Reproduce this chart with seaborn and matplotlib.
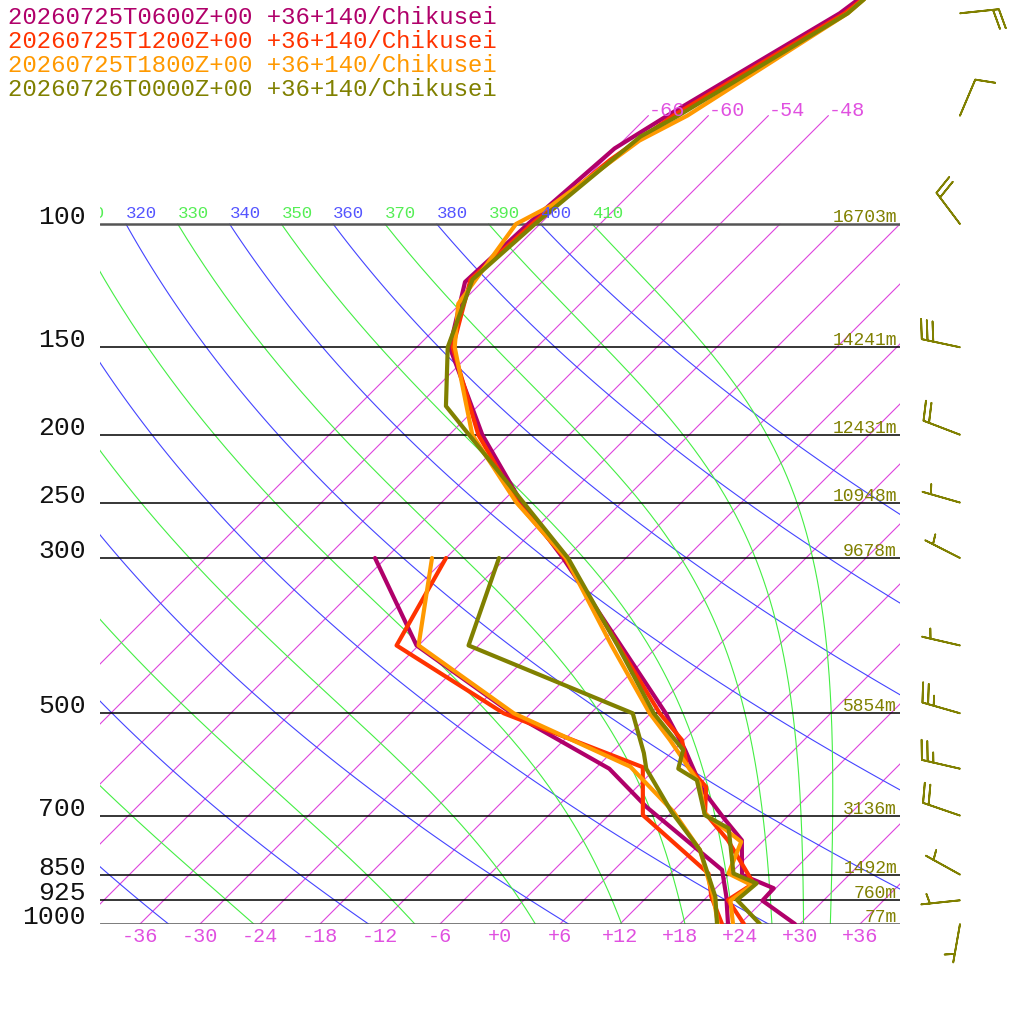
import numpy as np
import matplotlib
matplotlib.use("Agg")
import matplotlib.pyplot as plt
from matplotlib import transforms
import seaborn as sns

# run labels and colours
run_labels = ["20260725T0600Z+00 +36+140/Chikusei",
              "20260725T1200Z+00 +36+140/Chikusei",
              "20260725T1800Z+00 +36+140/Chikusei",
              "20260726T0000Z+00 +36+140/Chikusei"]
run_colors = ["#b0006a", "#ff3300", "#ff9900", "#808000"]

# temperature profiles (hPa, degC)
p_t1 = [1000, 926, 889, 851, 759, 706, 644, 564, 500, 300, 250, 200, 150, 121, 100, 78, 70, 50, 40]
t_t1 = [29.5, 23.9, 23.8, 19.3, 15.8, 11.8, 6.9, 1.1, -4.5, -30.3, -40.0, -50.7, -62.7, -67.7, -67.2, -66.1, -64.1, -57.1, -54.8]
p_t2 = [1000, 924, 875, 759, 694, 637, 593, 546, 500, 300, 250, 200, 150, 120, 100, 81, 70, 50, 40]
t_t2 = [24.4, 20.4, 21.3, 14.4, 9.4, 6.9, 2.8, -0.2, -5.1, -30.1, -40.4, -51.1, -62.4, -67.4, -66.8, -65.4, -63.5, -56.6, -54.8]
p_t3 = [1000, 926, 880, 847, 763, 695, 630, 546, 500, 400, 300, 250, 200, 150, 130, 100, 94, 76, 70, 50, 40]
t_t3 = [23.3, 20.7, 21.3, 17.8, 15.9, 9.4, 5.9, -1.4, -6.1, -16.7, -30.0, -40.5, -51.7, -62.2, -66.2, -68.4, -66.7, -64.4, -62.1, -56.3, -55.2]
p_t4 = [1000, 924, 875, 847, 730, 699, 623, 600, 564, 500, 400, 300, 182, 150, 120, 100, 75, 70, 50, 40]
t_t4 = [26.0, 21.3, 21.6, 18.3, 13.3, 9.6, 5.3, 2.3, 0.9, -5.7, -16.1, -29.8, -57.2, -62.9, -67.2, -66.5, -64.7, -63.0, -56.3, -55.2]

# dew point profiles (hPa, degC)
p_d1 = [1000, 914, 837, 680, 600, 500, 400, 300]
t_d1 = [22.8, 19.9, 16.8, 2.9, -4.6, -19.9, -36.2, -49.1]
p_d2 = [1000, 914, 847, 699, 597, 500, 400, 300]
t_d2 = [22.2, 18.4, 15.8, 3.4, -1.4, -20.7, -38.2, -42.0]
p_d3 = [1000, 914, 784, 691, 596, 500, 400, 300]
t_d3 = [21.8, 18.6, 12.6, 6.1, -2.7, -19.7, -36.0, -43.4]
p_d4 = [1000, 914, 784, 691, 600, 570, 500, 400, 300]
t_d4 = [21.7, 18.8, 12.6, 5.9, -0.9, -2.7, -7.8, -31.0, -36.7]

# isobars with geopotential height of the last run
isobars = [100, 150, 200, 250, 300, 500, 700, 850, 925, 1000]
heights = [16703, 14241, 12431, 10948, 9678, 5854, 3136, 1492, 760, 77]

# winds of the last run (direction deg, speed kt)
wind_p = [50, 70, 100, 150, 200, 250, 300, 400, 500, 600, 700, 850, 925, 1000]
wind_dir = [84, 23, 323, 282, 291, 286, 297, 283, 286, 283, 289, 299, 264, 190]
wind_spd = [20, 10, 20, 30, 20, 5, 5, 5, 25, 25, 20, 5, 5, 5]

SKEW = 30.4
P_TOP = 1000 * np.exp(-924 / 304)


def skew_x(t, p):
    return np.asarray(t, dtype=float) + SKEW * np.log(1000.0 / np.asarray(p, dtype=float))


def dtdp(t, p):
    es = 6.112 * np.exp(17.67 * (t - 273.15) / (t - 29.65))
    rs = 0.622 * es / (p - es)
    num = 287.04 * t + 2.501e6 * rs
    den = 1005.7 + 2.501e6 ** 2 * rs * 0.622 / (287.04 * t ** 2)
    return num / den / p


def moist_line(theta, pp):
    t = theta * (pp[0] / 1000.0) ** 0.2857
    out = [t]
    for i in range(1, len(pp)):
        h = pp[i] - pp[i - 1]
        p0 = pp[i - 1]
        k1 = dtdp(t, p0)
        k2 = dtdp(t + h * k1 / 2, p0 + h / 2)
        k3 = dtdp(t + h * k2 / 2, p0 + h / 2)
        k4 = dtdp(t + h * k3, p0 + h)
        t = t + h * (k1 + 2 * k2 + 2 * k3 + k4) / 6
        out.append(t)
    return np.array(out) - 273.15


sns.set_theme(style="white")
plt.rcParams["font.family"] = ["Liberation Mono", "DejaVu Sans Mono"]

fig = plt.figure(figsize=(10.24, 10.24), dpi=100)
ax = fig.add_axes([100 / 1024, 100 / 1024, 800 / 1024, 924 / 1024])
ax.set_yscale("log")
ax.axis("off")

lab_off = transforms.offset_copy(ax.transData, fig=fig, x=0, y=6, units="dots")

# isotherms
for t in range(-66, 37, 6):
    top = 70 if t <= -48 else 100
    pp = np.array([1000, top])
    ax.plot(skew_x(t, pp), pp, color="#dd44dd", lw=0.8)
    if top == 70:
        ax.text(skew_x(t, 70), 70, f"{t:+d}", color="#e050e0", fontsize=14.5,
                ha="left", va="baseline", clip_on=False)

# dry adiabats
pp = np.geomspace(1000, 100, 120)
for th in range(240, 401, 20):
    t = th * (pp / 1000) ** 0.2857 - 273.15
    ax.plot(skew_x(t, pp), pp, color="#4444ff", lw=0.8)
    x100 = skew_x(t[-1], 100)
    if x100 > -44:
        ax.text(x100, 100, str(th), color="#5555ff", fontsize=12.5,
                ha="left", va="baseline", transform=lab_off, clip_on=True)

# moist adiabats
pm = np.geomspace(100, 1000, 300)
for th in range(250, 411, 20):
    t = moist_line(th, pm)
    ax.plot(skew_x(t, pm), pm, color="#44ee44", lw=0.8)
    x100 = skew_x(t[0], 100)
    if x100 > -44:
        ax.text(x100, 100, str(th), color="#55ee55", fontsize=12.5,
                ha="left", va="baseline", transform=lab_off, clip_on=True)

# isobars
for p, h in zip(isobars, heights):
    edge = p in (100, 1000)
    ax.axhline(p, color="#555555" if edge else "black", lw=1.8 if edge else 1.1)
    hz = transforms.offset_copy(ax.get_yaxis_transform(), fig=fig, x=-3, y=2, units="dots")
    ax.text(1.0, p, f"{h}m", transform=hz, color="#808000", fontsize=13,
            ha="right", va="baseline", clip_on=False)
    pz = transforms.offset_copy(ax.get_yaxis_transform(), fig=fig, x=-14, y=0, units="dots")
    ax.text(0.0, p, str(p), transform=pz, color="#111111", fontsize=19,
            ha="right", va="baseline", clip_on=False)

# temperature axis labels
for t in range(-36, 37, 6):
    ax.text(t, -13 / 924, f"{t:+d}", transform=ax.get_xaxis_transform(),
            color="#e050e0", fontsize=14.5, ha="center", va="center", clip_on=False)

# profiles
temps = [(p_t1, t_t1), (p_t2, t_t2), (p_t3, t_t3), (p_t4, t_t4)]
dews = [(p_d1, t_d1), (p_d2, t_d2), (p_d3, t_d3), (p_d4, t_d4)]
for (pt, tt), (pd_, td), c in zip(temps, dews, run_colors):
    sns.lineplot(x=skew_x(tt, pt), y=pt, sort=False, estimator=None, color=c, lw=3, ax=ax)
    sns.lineplot(x=skew_x(td, pd_), y=pd_, sort=False, estimator=None, color=c, lw=3, ax=ax)

ax.set_xlim(-40, 40)
ax.set_ylim(1000, P_TOP)
ax.axis("off")

# titles
for i, (lab, c) in enumerate(zip(run_labels, run_colors)):
    fig.text(8 / 1024, 1 - (17 + 24 * i) / 1024, lab, color=c, fontsize=17.3,
             ha="left", va="center")

# wind barbs
bax = fig.add_axes([900 / 1024, 100 / 1024, 124 / 1024, 924 / 1024])
bax.set_yscale("log")
bax.set_xlim(0, 124)
bax.set_ylim(1000, P_TOP)
bax.axis("off")
rad = np.deg2rad(wind_dir)
u = -np.array(wind_spd) * np.sin(rad)
v = -np.array(wind_spd) * np.cos(rad)
bax.barbs(np.full(len(wind_p), 60), wind_p, u, v, length=7.5, color="#808000",
          linewidth=1.3, sizes=dict(spacing=0.15, height=0.5, width=0.25), clip_on=False)

fig.savefig("out.png", dpi=100, facecolor="white")
